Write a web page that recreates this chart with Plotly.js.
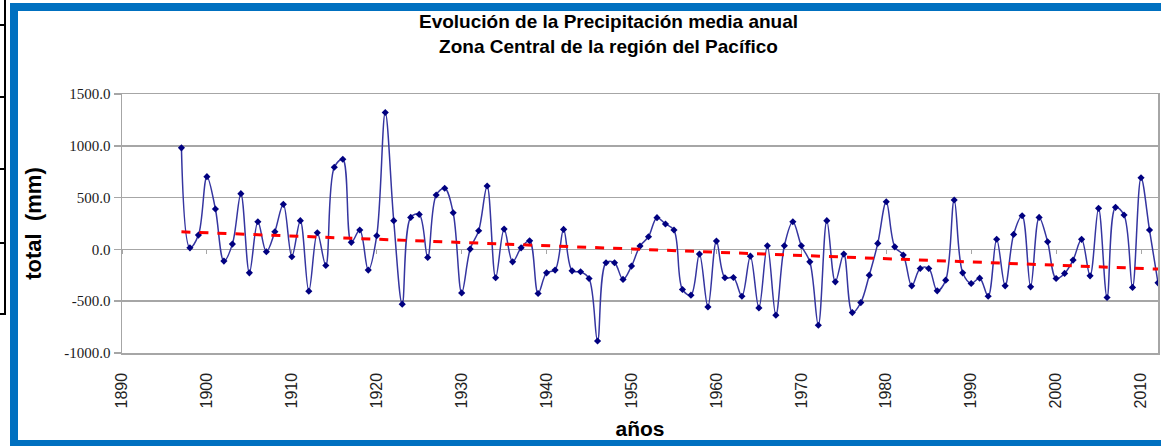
<!DOCTYPE html>
<html><head><meta charset="utf-8">
<script src="https://cdn.plot.ly/plotly-3.0.1.min.js"></script>
<style>
html,body{margin:0;padding:0;background:#fff;width:1161px;height:446px;overflow:hidden;position:relative}
#frame{position:absolute;left:10px;top:3px;width:1200px;height:445px;border:8px solid #0070C0;box-sizing:border-box}
.vl{position:absolute;left:4px;top:0;width:2px;height:315px;background:#000}
.hl{position:absolute;left:0;width:6px;height:2px;background:#000}
#chart{position:absolute;left:0;top:0;width:1161px;height:446px}
</style></head><body>
<div class="vl"></div>
<div class="hl" style="top:24px"></div>
<div class="hl" style="top:96px"></div>
<div class="hl" style="top:168px"></div>
<div class="hl" style="top:242px"></div>
<div class="hl" style="top:313px"></div>
<div id="frame"></div>
<div id="chart"></div>
<script>
// Years of the series
const years = [];
for (let y = 1897; y <= 2012; y++) years.push(y);

// Annual mean precipitation anomaly (mm), 1897-2012
const totals = [
  980, 15, 138, 702, 390, -113, 51, 538, -226, 267,      // 1897-1906
  -23, 170, 435, -71, 277, -403, 161, -155, 793, 870,     // 1907-1916
  68, 187, -200, 132, 1321, 277, -529, 309, 338, -77,     // 1917-1926
  525, 590, 354, -420, 3, 180, 612, -274, 196, -120,      // 1927-1936
  15, 83, -426, -226, -200, 193, -207, -216, -281, -884,  // 1937-1946
  -129, -129, -290, -161, 32, 122, 306, 245, 187, -387,   // 1947-1956
  -442, -45, -555, 80, -274, -271, -452, -65, -565, 35,   // 1957-1966
  -635, 35, 267, 35, -120, -732, 277, -313, -45, -610,    // 1967-1976
  -513, -249, 58, 460, 25, -55, -352, -184, -184, -400,   // 1977-1986
  -297, 477, -226, -329, -278, -452, 98, -352, 145, 325,  // 1987-1996
  -361, 309, 74, -281, -232, -103, 97, -255, 396, -464,   // 1997-2006
  406, 332, -367, 692, 187, -323                          // 2007-2012
];

// Linear trend line end points
const trendYears = [1897, 2012];
const trendValues = [170, -190];

// Axis ticks
const xTicks = [1890, 1900, 1910, 1920, 1930, 1940, 1950, 1960, 1970, 1980, 1990, 2000, 2010];
const yTicks = [-1000, -500, 0, 500, 1000, 1500];
const yTickText = ["-1000.0", "-500.0", "0.0", "500.0", "1000.0", "1500.0"];

const titleLines = ["Evolución de la Precipitación media anual", "Zona Central de la región del Pacífico"];

const traces = [
  {
    x: years, y: totals, type: 'scatter', mode: 'lines+markers',
    line: {color: '#3535A0', width: 1.5, shape: 'spline', smoothing: 1},
    marker: {symbol: 'diamond', size: 5.5, color: '#000080'},
    hoverinfo: 'skip'
  },
  {
    x: trendYears, y: trendValues, type: 'scatter', mode: 'lines',
    xaxis: 'x2',
    line: {color: '#FF0000', width: 3, dash: 'dash'},
    hoverinfo: 'skip'
  }
];

const gridC = '#A6A6A6';
const plotTop = 94, plotH = 259;
const layout = {
  width: 1161, height: 446,
  margin: {l: 122, r: 3, t: plotTop, b: 93},
  paper_bgcolor: 'rgba(0,0,0,0)',
  plot_bgcolor: '#ffffff',
  showlegend: false,
  annotations: [{
    text: '<b>' + titleLines.join('<br>') + '</b>',
    font: {family: 'Liberation Sans, Arial, sans-serif', size: 19, color: '#000'},
    xref: 'paper', x: (608 - 122) / 1036, xanchor: 'center',
    yref: 'paper', y: 1 + (plotTop - 34) / plotH, yanchor: 'middle',
    showarrow: false, align: 'center'
  }],
  xaxis: {
    range: [1890, 2012],
    tickvals: xTicks,
    ticktext: xTicks.map(String),
    tickangle: -90,
    tickfont: {family: 'Liberation Sans, Arial, sans-serif', size: 16, color: '#222'},
    ticks: 'outside', ticklen: 12, tickcolor: 'rgba(0,0,0,0)',
    showgrid: false, zeroline: false,
    showline: true, linecolor: gridC, linewidth: 1.5, mirror: true,
    title: {text: '<b>años</b>', font: {family: 'Liberation Sans, Arial, sans-serif', size: 21, color: '#000'}, standoff: 14}
  },
  xaxis2: {
    matches: 'x', overlaying: 'x', anchor: 'free', position: 0.4, side: 'bottom',
    tickvals: xTicks, showticklabels: false,
    ticks: 'outside', ticklen: 4, tickcolor: gridC, tickwidth: 1,
    showgrid: false, zeroline: false, showline: false
  },
  yaxis: {
    range: [-1000, 1500],
    tickvals: yTicks, ticktext: yTickText,
    tickfont: {family: 'Liberation Serif, Times New Roman, serif', size: 15, color: '#1a1a1a'},
    ticks: 'outside', ticklen: 7, tickcolor: gridC, tickwidth: 1.5,
    showgrid: true, gridcolor: gridC, gridwidth: 1.5,
    zeroline: false,
    showline: true, linecolor: gridC, linewidth: 1.5, mirror: true,
    title: {text: '<b>total  (mm)</b>', font: {family: 'Liberation Sans, Arial, sans-serif', size: 22, color: '#000'}, standoff: 16}
  }
};

Plotly.newPlot('chart', traces, layout, {displayModeBar: false, staticPlot: true});
</script>
</body></html>
